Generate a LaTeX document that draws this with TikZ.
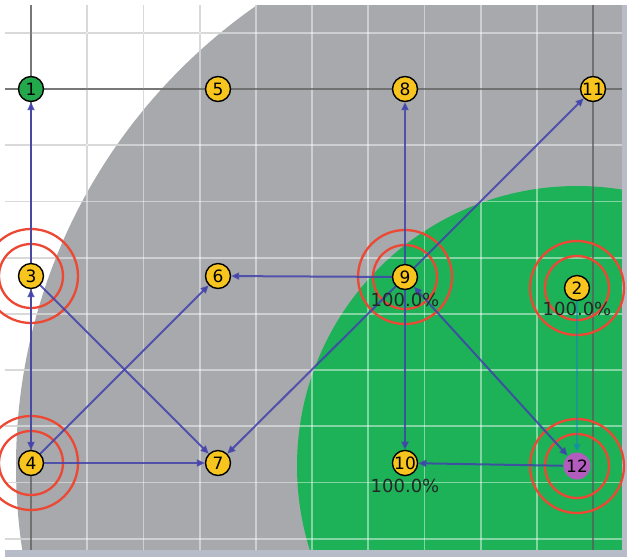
\documentclass[tikz,border=0pt]{standalone}
\usepackage{fontspec}
\setmainfont{DejaVu Sans}
\usetikzlibrary{arrows.meta, positioning, backgrounds}

\definecolor{zonegray}{RGB}{167,169,172}
\definecolor{zonegreen}{RGB}{29,178,88}
\definecolor{nodeyellow}{RGB}{248,196,30}
\definecolor{sinkgreen}{RGB}{36,168,76}
\definecolor{mobilepurple}{RGB}{178,92,190}
\definecolor{ringred}{RGB}{236,72,52}
\definecolor{linkblue}{RGB}{66,66,172}
\definecolor{framegray}{RGB}{184,188,200}

\begin{document}
\begin{tikzpicture}[
    x=1pt, y=-1pt,
    sensor/.style={circle, draw=black, line width=1.4pt, fill=nodeyellow, minimum size=25pt, inner sep=0pt, font=\fontsize{17}{17}\selectfont},
    sink/.style={sensor, fill=sinkgreen},
    mobile/.style={sensor, draw=none, fill=mobilepurple, minimum size=27pt},
    pct/.style={font=\fontsize{18}{18}\selectfont, text=black!85, inner sep=0pt},
    ring/.style={draw=ringred, line width=2.3pt},
    link/.style={-{Triangle[length=8pt, width=7pt]}, line width=2pt, draw=linkblue, opacity=0.85},
    dlink/.style={link, {Triangle[length=8pt, width=7pt]}-{Triangle[length=8pt, width=7pt]}},
    faint/.style={link, draw=cyan!60!blue, opacity=0.45},
    gridlow/.style={draw=black!27, line width=1.8pt},
    gridhigh/.style={draw=white, opacity=0.45, line width=1.8pt},
    axisline/.style={draw=black, opacity=0.45, line width=1.6pt},
]
    \useasboundingbox (0,0) rectangle (628,558);

    % Sensors
    \node[sink]   (n1)  at (31,89)   {1};
    \node[sensor] (n5)  at (218,89)  {5};
    \node[sensor] (n8)  at (405,89)  {8};
    \node[sensor] (n11) at (593,89)  {11};
    \node[sensor] (n3)  at (31,276)  {3};
    \node[sensor] (n6)  at (218,276) {6};
    \node[sensor] (n9)  at (405,277) {9};
    \node[sensor] (n2)  at (577,288) {2};
    \node[sensor] (n4)  at (31,463)  {4};
    \node[sensor] (n7)  at (218,463) {7};
    \node[sensor] (n10) at (405,463) {10};
    \node[mobile] (n12) at (577,466) {12};

    % Coverage labels
    \node[pct, below=3pt of n9]  (p9)  {100.0\%};
    \node[pct, below=1pt of n2]  (p2)  {100.0\%};
    \node[pct, below=3pt of n10] (p10) {100.0\%};

    \begin{scope}[on background layer]
        % Grid under the zones
        \foreach \gx in {0,...,10}
            \draw[gridlow] ({31+56.2*\gx},5) -- ({31+56.2*\gx},550);
        \foreach \gy in {-1,...,8}
            \draw[gridlow] (5,{89+56.2*\gy}) -- (622,{89+56.2*\gy});

        % Zones around the mobile node
        \begin{scope}
            \clip (5,5) rectangle (622,550);
            \fill[zonegray] (n12.center) circle[radius=561];
            \fill[zonegreen] (n12.center) circle[radius=280];
            \foreach \gx in {0,...,10}
                \draw[gridhigh] ({31+56.2*\gx},5) -- ({31+56.2*\gx},550);
            \foreach \gy in {-1,...,8}
                \draw[gridhigh] (5,{89+56.2*\gy}) -- (622,{89+56.2*\gy});
        \end{scope}
        \draw[axisline] (n1.center |- 0,5) -- (n1.center |- 0,550);
        \draw[axisline] (n11.center |- 0,5) -- (n11.center |- 0,550);
        \draw[axisline] (5,89) -- (622,89);

        % Frame
        \fill[framegray] (622,5) rectangle (627,557);
        \fill[framegray] (5,550) rectangle (627,557);

        % Rings
        \foreach \n in {n3,n4,n9,n2,n12} {
            \draw[ring] (\n.center) circle[radius=47];
            \draw[ring] (\n.center) circle[radius=32];
        }

        % Links
        \draw[link] (n3) -- (n1);
        \draw[dlink] (n3) -- (n4);
        \draw[link] (n3) -- (n7);
        \draw[link] (n4) -- (n6);
        \draw[link] (n4) -- (n7);
        \draw[link] (n9) -- (n6);
        \draw[link] (n9) -- (n7);
        \draw[link] (n9) -- (n8);
        \draw[link] (n9) -- (n11);
        \draw[link] (n9) -- (n10);
        \draw[dlink] (n9) -- (n12);
        \draw[link] (n12) -- (n10);
        \draw[faint] (n2) -- (n12);
    \end{scope}
\end{tikzpicture}
\end{document}
